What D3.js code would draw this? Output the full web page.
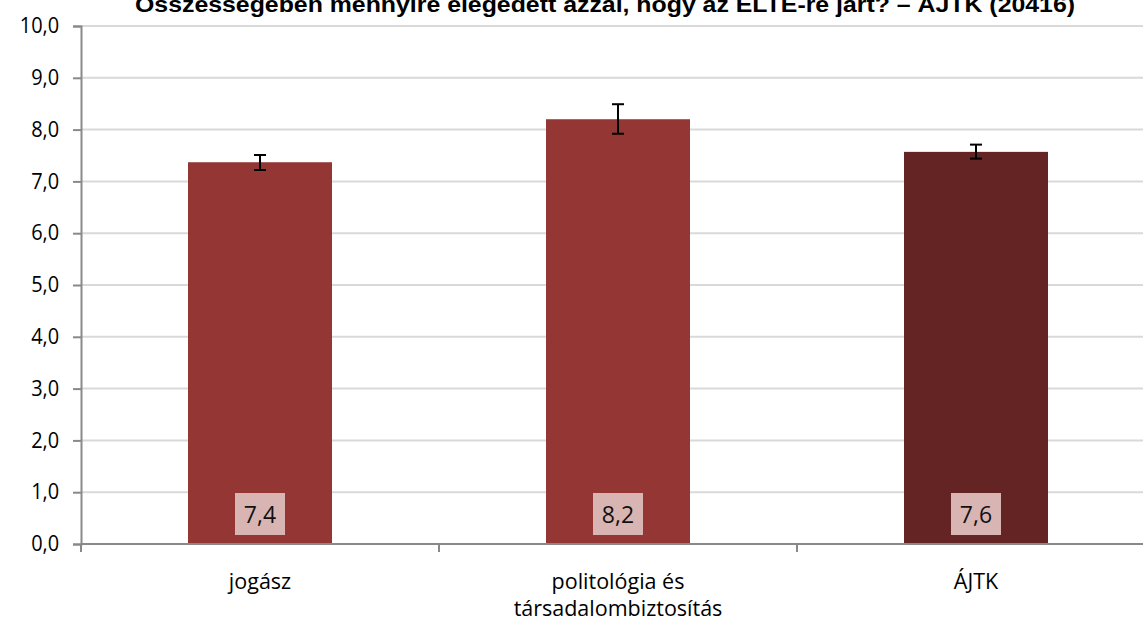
<!DOCTYPE html>
<html><head><meta charset="utf-8">
<script src="https://cdn.jsdelivr.net/npm/d3@7"></script>
<style>
body{margin:0;background:#fff;}
svg{display:block;}
</style></head>
<body>
<svg id="c" width="1143" height="623"></svg>
<script>
const titleText = "Összességében mennyire elégedett azzal, hogy az ELTE-re járt? – ÁJTK (20416)";
const categories = [["jogász"], ["politológia és", "társadalombiztosítás"], ["ÁJTK"]];
const values = [7.37, 8.20, 7.57];
const errLow = [7.22, 7.92, 7.44];
const errHigh = [7.51, 8.49, 7.71];
const valueLabels = ["7,4", "8,2", "7,6"];
const barColors = ["#943634", "#943634", "#632423"];
const yTicks = [0,1,2,3,4,5,6,7,8,9,10];

(function(){
const svg = d3.select("#c");
const mLeft = 81, mTop = 26, mBottom = 544, catW = 358;
const x = d3.scaleBand().domain(d3.range(categories.length)).range([mLeft, mLeft + catW*categories.length]).paddingInner(0).paddingOuter(0);
const y = d3.scaleLinear().domain([0,10]).range([mBottom, mTop]);
const font = "'Liberation Sans Narrow','Arial Narrow','Liberation Sans',sans-serif";
const lblFont = "'Open Sans','Liberation Sans',sans-serif";

// gridlines
svg.append("g").selectAll("line").data(yTicks.filter(d=>d>0)).join("line")
  .attr("x1", mLeft).attr("x2", 1143).attr("y1", d=>y(d)).attr("y2", d=>y(d))
  .attr("stroke", "#d9d9d9").attr("stroke-width", 2);

// y axis
const yAxis = svg.append("g").attr("transform", `translate(${mLeft},0)`)
  .call(d3.axisLeft(y).tickValues(yTicks).tickSize(8).tickPadding(15).tickFormat(d=>d3.format(".1f")(d).replace(".", ",")));
yAxis.select(".domain").attr("stroke", "#898989").attr("stroke-width", 2);
yAxis.selectAll(".tick line").attr("stroke", "#898989").attr("stroke-width", 2);
yAxis.selectAll("text").attr("font-family", lblFont).attr("font-size", 21).attr("fill", "#000")
  .attr("transform","scale(0.95,1.05)").attr("dy","0.3em");

// bars
const bw = 144;
svg.append("g").selectAll("rect").data(values).join("rect")
  .attr("x", (d,i)=>x(i)+x.bandwidth()/2-bw/2).attr("width", bw)
  .attr("y", d=>y(d)).attr("height", d=>mBottom-y(d))
  .attr("fill", (d,i)=>barColors[i]);

// error bars
const eb = svg.append("g").attr("stroke", "#000").attr("stroke-width", 2);
values.forEach((v,i)=>{
  const cx = x(i)+x.bandwidth()/2;
  eb.append("line").attr("x1",cx).attr("x2",cx).attr("y1",y(errHigh[i])).attr("y2",y(errLow[i]));
  eb.append("line").attr("x1",cx-6).attr("x2",cx+6).attr("y1",y(errHigh[i])).attr("y2",y(errHigh[i]));
  eb.append("line").attr("x1",cx-6).attr("x2",cx+6).attr("y1",y(errLow[i])).attr("y2",y(errLow[i]));
});

// value labels
const lg = svg.append("g");
values.forEach((v,i)=>{
  const cx = x(i)+x.bandwidth()/2;
  lg.append("rect").attr("x", cx-25).attr("y", 493).attr("width", 50).attr("height", 42).attr("fill", "#d8b4b3");
  lg.append("text").attr("x", cx).attr("y", 523).attr("text-anchor","middle")
    .attr("font-family",lblFont).attr("font-size",23).attr("fill","#111").text(valueLabels[i]);
});

// x axis
const xa = svg.append("g");
xa.append("line").attr("x1", mLeft).attr("x2", 1143).attr("y1", mBottom).attr("y2", mBottom).attr("stroke","#898989").attr("stroke-width",2);
xa.selectAll("line.t").data(d3.range(categories.length+1)).join("line").attr("class","t")
  .attr("x1", d=>mLeft+d*catW).attr("x2", d=>mLeft+d*catW).attr("y1", mBottom).attr("y2", mBottom+8)
  .attr("stroke","#898989").attr("stroke-width",2);
categories.forEach((lines,i)=>{
  const cx = x(i)+x.bandwidth()/2;
  lines.forEach((l,j)=>xa.append("text").attr("text-anchor","middle").attr("font-family",lblFont)
    .attr("font-size",21.5).attr("fill","#000").attr("x",cx).attr("y",589+j*27).text(l));
});

// title
svg.append("text").attr("x", 605).attr("y", 12).attr("text-anchor","middle")
  .attr("font-family", font).attr("font-weight","bold").attr("font-size",22).attr("fill","#000")
  .attr("textLength", 940).attr("lengthAdjust","spacingAndGlyphs").text(titleText);
})();
</script>
</body></html>
